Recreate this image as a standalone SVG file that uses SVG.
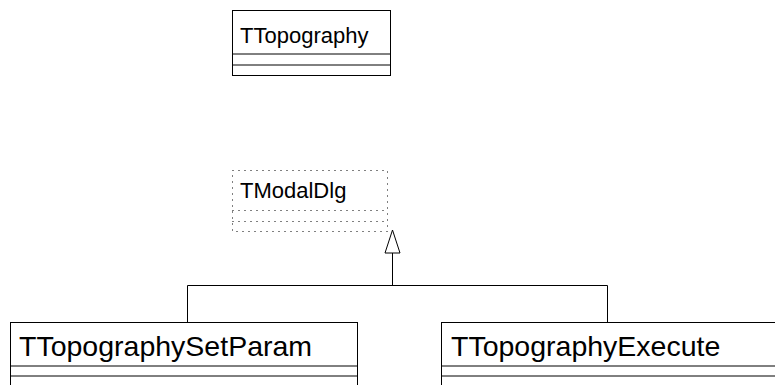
<svg xmlns="http://www.w3.org/2000/svg" width="775" height="385" viewBox="0 0 775 385">
  <style>
    .box { fill: #ffffff; stroke: #000000; stroke-width: 1; }
    .sep { stroke: #000000; stroke-width: 1; }
    .dot { fill: none; stroke: #000000; stroke-width: 1; stroke-dasharray: 1 5; }
    .name { font-family: "Liberation Sans", Arial, sans-serif; font-size: 22px; fill: #000000; }
    .name-lg { font-family: "Liberation Sans", Arial, sans-serif; font-size: 28.5px; fill: #000000; }
    .edge { fill: none; stroke: #000000; stroke-width: 1; }
    .head { fill: #ffffff; stroke: #000000; stroke-width: 1; }
  </style>
  <rect width="775" height="385" fill="#ffffff"/>

  <!-- inheritance: both dialogs derive from TModalDlg -->
  <g id="connectors">
    <polyline class="edge" points="187.5,322 187.5,285.5 607.5,285.5 607.5,322"/>
    <line class="edge" x1="392.5" y1="253" x2="392.5" y2="285.5"/>
    <polygon class="head" points="392.5,230 385,253 400,253"/>
  </g>

  <g id="TTopography">
    <rect class="box" x="232.5" y="10.5" width="158" height="65"/>
    <line class="sep" x1="232.5" y1="54" x2="390.5" y2="54"/>
    <line class="sep" x1="232.5" y1="65" x2="390.5" y2="65"/>
    <text class="name" x="240" y="43">TTopography</text>
  </g>

  <!-- external class, drawn with dotted outline -->
  <g id="TModalDlg">
    <rect class="dot" x="232.5" y="170.5" width="155" height="61"/>
    <line class="dot" x1="232.5" y1="210.5" x2="387.5" y2="210.5"/>
    <line class="dot" x1="232.5" y1="221.5" x2="387.5" y2="221.5"/>
    <text class="name" x="240" y="198">TModalDlg</text>
  </g>

  <g id="TTopographySetParam">
    <rect class="box" x="10.5" y="322.5" width="347" height="80"/>
    <line class="sep" x1="10.5" y1="366" x2="357.5" y2="366"/>
    <line class="sep" x1="10.5" y1="376" x2="357.5" y2="376"/>
    <text class="name-lg" x="19" y="356">TTopographySetParam</text>
  </g>

  <g id="TTopographyExecute">
    <rect class="box" x="441.5" y="322.5" width="350" height="80"/>
    <line class="sep" x1="441.5" y1="366" x2="791.5" y2="366"/>
    <line class="sep" x1="441.5" y1="376" x2="791.5" y2="376"/>
    <text class="name-lg" x="451" y="356">TTopographyExecute</text>
  </g>
</svg>
